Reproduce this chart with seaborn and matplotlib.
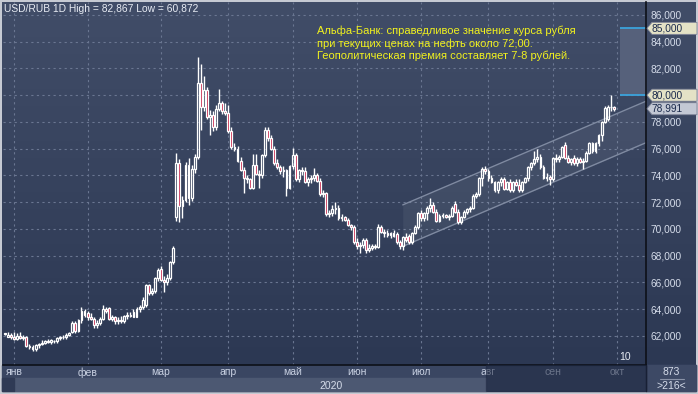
# USD/RUB 1D - candlestick chart with channel and target zone
import numpy as np
import pandas as pd
import matplotlib
matplotlib.use("Agg")
import matplotlib.pyplot as plt
import seaborn as sns
from matplotlib.patches import Rectangle, Polygon
from matplotlib.colors import LinearSegmentedColormap

# ===================== DATA =====================
opens = [
    62.14, 61.95, 62.05, 61.9, 61.8, 62.0, 61.85, 61.9, 61.25, 61.2,
    61.0, 61.3, 61.4, 61.5, 61.6, 61.55, 61.6, 61.6, 61.85, 61.9,
    61.95, 62.1, 62.3, 63.0, 62.4, 63.2, 63.9, 63.7, 63.4, 63.3,
    62.8, 63.0, 63.3, 64.0, 64.1, 63.3, 63.4, 63.1, 63.2, 63.1,
    63.5, 63.6, 63.8, 63.45, 64.0, 64.2, 64.3, 65.8, 65.2, 65.4,
    66.3, 67.0, 66.2, 66.0, 66.3, 67.5, 70.9, 74.9, 71.7, 72.2,
    74.8, 72.3, 74.5, 75.4, 80.9, 79.1, 80.4, 78.4, 78.5, 77.6,
    79.0, 79.4, 78.8, 78.7, 77.3, 76.1, 76.0, 75.1, 74.4, 73.8,
    73.7, 73.1, 74.8, 74.1, 74.0, 75.5, 77.4, 76.8, 76.0, 74.9,
    74.6, 74.3, 74.4, 73.1, 74.7, 75.5, 73.7, 74.4, 74.3, 73.5,
    73.7, 73.8, 74.0, 73.6, 72.6, 72.7, 71.1, 71.2, 71.5, 71.6,
    70.8, 70.9, 70.7, 70.3, 70.15, 69.0, 68.7, 68.8, 69.2, 68.4,
    68.6, 68.7, 68.65, 70.15, 69.8, 69.7, 69.55, 69.7, 69.6, 69.0,
    68.7, 69.4, 69.5, 69.0, 69.7, 70.15, 71.2, 70.8, 71.2, 71.6,
    71.8, 71.3, 70.6, 71.0, 71.05, 70.9, 70.95, 71.9, 71.3, 70.5,
    70.9, 71.3, 71.5, 71.6, 72.5, 72.6, 73.8, 74.5, 74.3, 73.8,
    73.5, 72.9, 73.5, 73.7, 73.0, 73.5, 72.9, 73.5, 73.3, 72.9,
    73.5, 73.8, 74.6, 74.9, 75.2, 75.4, 74.6, 73.8, 73.9, 73.7,
    75.3, 75.2, 75.4, 76.3, 75.3, 75.0, 75.3, 74.9, 75.2, 75.0,
    75.1, 75.7, 76.4, 75.8, 76.4, 77.0, 78.0, 78.2, 79.1, 79.1,
]
highs = [
    62.2, 62.3, 62.2, 62.3, 62.2, 62.3, 62.1, 62.0, 61.4, 61.3,
    61.4, 61.5, 61.7, 61.7, 61.8, 61.75, 61.7, 61.9, 62.0, 62.1,
    62.2, 62.3, 63.1, 63.1, 63.3, 64.2, 64.0, 63.9, 63.7, 63.4,
    63.2, 63.4, 64.3, 64.2, 64.2, 63.6, 63.5, 63.4, 63.5, 63.6,
    63.8, 63.8, 64.0, 64.2, 64.3, 64.9, 65.9, 65.9, 65.6, 66.4,
    67.1, 67.2, 66.5, 66.6, 67.6, 68.7, 75.7, 75.2, 72.5, 75.0,
    75.3, 74.8, 75.6, 82.87, 82.3, 81.4, 80.6, 78.9, 78.8, 79.3,
    80.5, 79.6, 79.4, 79.3, 77.6, 76.4, 76.2, 75.4, 74.6, 74.0,
    73.8, 75.6, 75.6, 74.4, 75.6, 77.6, 77.6, 77.0, 76.2, 75.2,
    74.8, 74.7, 74.5, 74.8, 76.05, 75.7, 74.5, 74.6, 74.6, 73.9,
    74.0, 74.55, 74.2, 73.8, 72.9, 72.8, 71.4, 71.8, 72.0, 71.8,
    71.1, 71.0, 70.8, 70.4, 70.3, 69.3, 69.0, 69.3, 69.3, 68.9,
    68.9, 68.9, 70.4, 70.3, 70.0, 69.9, 69.8, 69.9, 69.8, 69.2,
    69.5, 69.7, 69.6, 69.8, 70.3, 71.3, 71.4, 71.3, 71.7, 72.3,
    72.0, 71.5, 71.1, 71.2, 71.1, 71.1, 71.7, 72.1, 71.5, 71.0,
    71.4, 71.6, 71.7, 72.6, 72.8, 73.9, 74.6, 74.7, 74.5, 74.0,
    73.6, 73.6, 73.9, 73.9, 73.6, 73.7, 73.6, 73.7, 73.7, 73.6,
    73.9, 74.7, 75.0, 75.8, 76.0, 75.6, 74.8, 74.2, 74.0, 75.4,
    75.6, 75.5, 76.2, 76.5, 75.5, 75.3, 75.5, 75.4, 75.4, 75.3,
    75.8, 76.5, 76.5, 76.5, 77.1, 78.1, 79.2, 79.3, 80.0, 79.2,
]
lows = [
    62.1, 61.9, 61.8, 61.7, 61.7, 61.8, 61.7, 61.2, 61.0, 60.87,
    60.9, 61.1, 61.3, 61.4, 61.5, 61.4, 61.5, 61.5, 61.7, 61.8,
    61.8, 62.0, 62.2, 62.2, 62.3, 63.0, 63.4, 63.2, 63.2, 62.6,
    62.6, 62.8, 63.2, 63.7, 63.2, 63.1, 62.9, 62.9, 63.0, 63.0,
    63.3, 63.4, 63.4, 63.4, 63.8, 64.0, 64.2, 65.1, 65.1, 65.2,
    66.1, 66.1, 65.3, 65.8, 66.2, 67.4, 70.6, 70.5, 70.8, 72.0,
    71.8, 72.1, 74.2, 75.2, 77.4, 78.8, 78.2, 77.0, 77.3, 77.4,
    78.8, 78.6, 78.5, 77.2, 76.0, 75.8, 75.0, 74.3, 72.7, 73.4,
    73.0, 73.0, 74.0, 73.1, 73.8, 75.4, 76.6, 75.9, 74.8, 74.5,
    74.1, 73.9, 72.5, 73.0, 74.5, 73.6, 73.5, 74.0, 73.4, 73.2,
    73.4, 73.6, 73.5, 72.5, 72.4, 71.0, 70.9, 71.0, 71.1, 70.7,
    70.6, 70.6, 70.2, 69.9, 68.9, 68.5, 68.2, 68.6, 68.2, 68.3,
    68.4, 68.5, 68.6, 69.7, 69.4, 69.4, 69.3, 69.4, 68.9, 68.5,
    68.4, 69.0, 68.9, 68.9, 69.6, 70.0, 70.6, 70.6, 70.7, 71.3,
    71.2, 70.5, 70.5, 70.8, 70.8, 70.7, 70.9, 71.2, 70.4, 70.4,
    70.8, 71.1, 71.3, 71.5, 72.3, 72.5, 73.2, 74.1, 73.6, 73.4,
    72.8, 72.7, 73.2, 72.9, 72.9, 72.8, 72.8, 73.2, 72.8, 72.8,
    73.4, 73.6, 74.4, 74.8, 75.0, 74.5, 73.7, 73.6, 73.3, 73.6,
    75.0, 75.0, 75.3, 75.2, 74.9, 74.8, 74.8, 74.7, 74.9, 74.5,
    75.0, 75.6, 75.7, 75.7, 76.2, 76.6, 77.9, 78.1, 78.8, 78.8,
]
closes = [
    62.16, 62.05, 61.9, 61.8, 62.0, 61.85, 61.9, 61.25, 61.2, 61.0,
    61.3, 61.4, 61.5, 61.6, 61.55, 61.7, 61.65, 61.85, 61.9, 61.95,
    62.1, 62.2, 63.0, 62.4, 63.2, 63.9, 63.6, 63.4, 63.3, 62.8,
    63.0, 63.3, 64.0, 63.9, 63.3, 63.4, 63.1, 63.2, 63.1, 63.5,
    63.6, 63.5, 63.45, 64.0, 64.2, 64.7, 65.8, 65.2, 65.4, 66.3,
    66.9, 66.2, 66.0, 66.3, 67.5, 68.6, 74.9, 71.7, 72.2, 74.8,
    72.3, 74.5, 75.4, 80.9, 79.1, 80.4, 78.4, 78.5, 77.6, 79.0,
    79.4, 78.8, 78.7, 77.3, 76.1, 76.0, 75.1, 74.4, 73.8, 73.7,
    73.1, 74.8, 74.1, 74.0, 75.5, 77.4, 76.8, 76.0, 74.9, 74.6,
    74.3, 74.4, 73.1, 74.7, 75.5, 73.7, 74.4, 74.3, 73.5, 73.7,
    73.8, 74.0, 73.6, 72.6, 72.7, 71.1, 71.2, 71.5, 71.6, 70.8,
    70.9, 70.7, 70.3, 70.15, 69.0, 68.7, 68.8, 69.2, 68.4, 68.6,
    68.7, 68.65, 70.15, 69.8, 69.7, 69.55, 69.7, 69.5, 69.0, 68.7,
    69.4, 69.2, 69.0, 69.7, 70.15, 71.2, 70.8, 71.2, 71.6, 71.8,
    71.3, 70.6, 71.0, 71.05, 70.9, 70.95, 71.6, 71.3, 70.5, 70.9,
    71.3, 71.5, 71.6, 72.5, 72.6, 73.8, 74.5, 74.3, 73.8, 73.5,
    72.9, 73.5, 73.7, 73.0, 73.5, 72.9, 73.5, 73.3, 72.9, 73.5,
    73.8, 74.6, 74.9, 75.2, 75.4, 74.6, 73.8, 73.9, 73.7, 75.3,
    75.2, 75.4, 76.1, 75.3, 75.0, 75.2, 74.9, 75.2, 75.0, 75.1,
    75.7, 76.4, 75.8, 76.4, 77.0, 78.0, 79.05, 79.1, 79.15, 78.99,
]

month_labels = ["янв", "фев", "мар", "апр", "май", "июн", "июл", "авг", "сен", "окт"]
month_first_bar = [3, 27, 51, 73, 94, 115, 136, 158, 179, 200]
price_ticks = [62, 64, 66, 68, 70, 72, 74, 76, 78, 80, 82, 84, 86]

channel_bars = [130, 210]
channel_upper = [71.8, 79.6]
channel_lower = [68.7, 76.5]

target_start_bar = 201
target_low = 80.0
target_high = 85.0
last_price = 78.991

title_txt = "USD/RUB 1D High = 82,867 Low = 60,872"
note_txt = ("Альфа-Банк: справедливое значение курса рубля\n"
            "при текущих ценах на нефть около 72,00.\n"
            "Геополитическая премия составляет 7-8 рублей.")

# ===================== STYLE =====================
sns.set_theme(style="dark")
plt.rcParams["font.family"] = ["Liberation Sans", "DejaVu Sans"]

W, H = 698, 394
BG_TOP, BG_BOT = "#414d68", "#2c3853"
TXT = "#d5dcea"


def fr(x0, y0, x1, y1):
    return [x0 / W, 1 - y1 / H, (x1 - x0) / W, (y1 - y0) / H]


fig = plt.figure(figsize=(W / 100, H / 100), dpi=100)
fig.patch.set_facecolor("#c6cad3")

# background / chrome in pixel coords
bg = fig.add_axes([0, 0, 1, 1])
bg.set_xlim(0, W)
bg.set_ylim(H, 0)
bg.axis("off")
grad = np.linspace(0, 1, 256).reshape(-1, 1)
cmap = LinearSegmentedColormap.from_list("bg", [BG_TOP, BG_BOT])
bg.imshow(grad, cmap=cmap, extent=(2, 696, 365, 2), aspect="auto", zorder=0)
bg.add_patch(Rectangle((2, 365), 694, 26, color="#3a4662", zorder=1))
bg.add_patch(Rectangle((14, 378), 472, 13, color="#4c5872", zorder=1))
bg.add_patch(Rectangle((2, 378), 12, 13, color="#2f3a55", zorder=1))
bg.add_patch(Rectangle((646, 365), 50, 26, color="#3d4965", zorder=1))
bg.plot([646, 646], [365, 391], color="#111520", lw=1, zorder=2)
bg.plot([660, 684], [379, 379], color="#8a93a8", lw=0.8, zorder=2)
bg.text(331, 386, "2020", color=TXT, fontsize=7.5, ha="center", va="center", zorder=3)
bg.text(671, 372, "873", color=TXT, fontsize=7.5, ha="center", va="center", zorder=3)
bg.text(671, 386, ">216<", color=TXT, fontsize=7.5, ha="center", va="center", zorder=3)

# main chart
ax = fig.add_axes(fr(3, 2, 646, 365))
ax.set_zorder(2)
ax.patch.set_visible(False)

x = np.arange(len(closes))
o = np.array(opens)
h = np.array(highs)
l = np.array(lows)
c = np.array(closes)
up = c >= o
lo_b = np.minimum(o, c)
hi_b = np.maximum(o, c)
size = np.maximum(hi_b - lo_b, 0.05)

# channel band and lines
ax.fill_between(channel_bars, channel_lower, channel_upper, color="white", alpha=0.06, lw=0, zorder=1)
chan = pd.DataFrame({
    "bar": channel_bars * 2,
    "value": channel_upper + channel_lower,
    "edge": ["upper", "upper", "lower", "lower"],
})
sns.lineplot(data=chan, x="bar", y="value", units="edge", estimator=None,
             color="#7f8aa1", lw=1, ax=ax, legend=False, zorder=1.2)

# target zone
ax.fill_between([target_start_bar, 210], target_low, target_high, color="#56617b", lw=0, zorder=1)
ax.hlines([target_low, target_high], target_start_bar, 210, color="#3ba3dc", lw=1.3, zorder=1.3)

# candles
ax.vlines(x, l, lo_b, color="white", lw=1, zorder=3)
ax.vlines(x, hi_b, h, color="white", lw=1, zorder=3)
ax.bar(x[up], size[up], bottom=lo_b[up], width=0.6, facecolor="none",
       edgecolor="white", linewidth=0.9, zorder=3)
ax.bar(x[~up], size[~up], bottom=lo_b[~up], width=0.6, facecolor="#c4183f",
       edgecolor="white", linewidth=0.9, zorder=3)

ax.set_xlim(-0.65, 209.5)
ax.set_ylim(59.83, 86.97)

# the 80 level is shown by its price tag, as in the terminal
tick_text = ["" if v == target_low else f"{v:.3f}".replace(".", ",") for v in price_ticks]
ax.set_xticks(month_first_bar, month_labels)
ax.set_yticks(price_ticks, tick_text)
ax.yaxis.tick_right()
ax.tick_params(axis="y", length=0, pad=3, labelsize=7.3, colors=TXT)
ax.tick_params(axis="x", length=0, pad=1.5, labelsize=7.5, colors="#c9d1e2")
ax.grid(True, color="#6a7691", linestyle=(0, (2, 3)), linewidth=0.8)
ax.set_axisbelow(True)
ax.set_xlabel("")
ax.set_ylabel("")
for s in ["left", "top"]:
    ax.spines[s].set_visible(False)
for s in ["right", "bottom"]:
    ax.spines[s].set_visible(True)
    ax.spines[s].set_color("#0d1018")
    ax.spines[s].set_linewidth(1.2)


def to_ax(px, py):
    return (px - 3) / 643, (365 - py) / 363


ax.text(*to_ax(4, 9), title_txt, transform=ax.transAxes, color="#e8ecf4",
        fontsize=7.4, ha="left", va="center")
ax.text(*to_ax(317, 26), note_txt, transform=ax.transAxes, color="#f2f21e",
        fontsize=8.0, ha="left", va="top", linespacing=1.2)
ax.text(*to_ax(619, 357), "10", transform=ax.transAxes, color="#e8ecf4",
        fontsize=7.5, ha="left", va="center")

# dim overlay on the timeline
fig.add_artist(Rectangle((486 / W, 1 - 391 / H), 160 / W, 26 / H, transform=fig.transFigure,
                         color="#1d2740", alpha=0.55, zorder=5))

# price tags on the right scale
fig.canvas.draw()
for val, face in [(target_high, "#e4e2c6"), (target_low, "#e4e2c6"), (last_price, "#c3c8d4")]:
    py = H - ax.transData.transform((0, val))[1]
    pts = [(647, py), (652, py - 6), (697, py - 6), (697, py + 6), (652, py + 6)]
    pts = [(px / W, 1 - yy / H) for px, yy in pts]
    fig.add_artist(Polygon(pts, closed=True, transform=fig.transFigure, facecolor=face,
                           edgecolor="#7f8498", lw=0.6, zorder=6))
    fig.text(652 / W, 1 - py / H, f"{val:.3f}".replace(".", ","), color="#1b2a4c",
             fontsize=7.3, ha="left", va="center", zorder=7)

fig.savefig("out.png", dpi=100, facecolor=fig.get_facecolor())
